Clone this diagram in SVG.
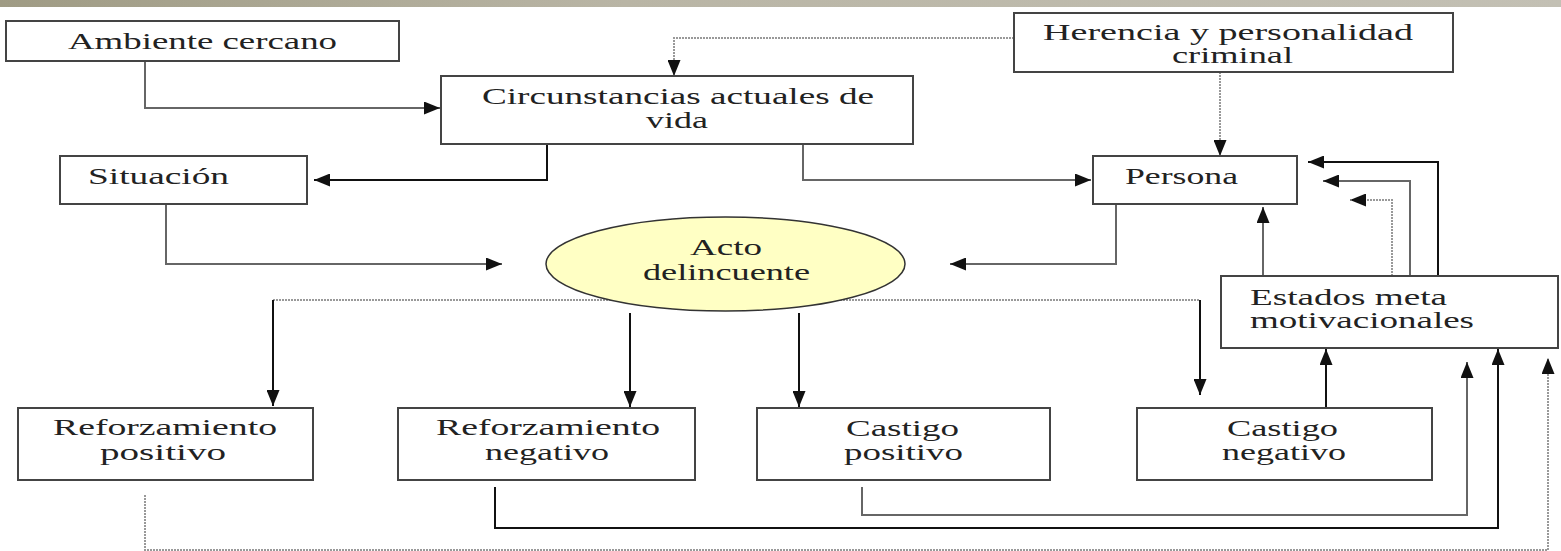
<svg xmlns="http://www.w3.org/2000/svg" width="1561" height="551" viewBox="0 0 1561 551">
<defs>
<linearGradient id="band" x1="0" y1="0" x2="1" y2="0">
<stop offset="0" stop-color="#9f9b84"/>
<stop offset="0.4" stop-color="#b9b5a5"/>
<stop offset="1" stop-color="#c3c0b4"/>
</linearGradient>
<marker id="ah" viewBox="0 0 16 13" refX="16" refY="6.5" markerWidth="16" markerHeight="13" markerUnits="userSpaceOnUse" orient="auto">
<path d="M0,0 L16,6.5 L0,13 z" fill="#111"/>
</marker>
</defs>
<style>
.box{fill:#fff;stroke:#444;stroke-width:2}
.t{font-family:"Liberation Serif","Times New Roman",serif;font-size:24px;fill:#222}
.c{fill:none;stroke-width:2}
.k{stroke:#111}
.g{stroke:#666}
.l{stroke:#999;stroke-dasharray:2 1}
.a{marker-end:url(#ah)}
</style>
<rect x="0" y="0" width="1561" height="7" fill="url(#band)"/>
<rect x="0" y="7" width="1561" height="544" fill="#fff"/>

<g id="connectors">
<path class="c g a" d="M145,61 V108 H440"/>
<path class="c l a" d="M1014,38 H674 V76"/>
<path class="c l a" d="M1220,72 V156"/>
<path class="c k a" d="M547,144 V180 H314"/>
<path class="c g a" d="M803,144 V180 H1091"/>
<path class="c g a" d="M166,204 V264 H502"/>
<path class="c g a" d="M1116,204 V264 H950"/>
<path class="c l" d="M273,300 H1200"/>
<path class="c k a" d="M273,300 V406"/>
<path class="c k a" d="M630,313 V407"/>
<path class="c k a" d="M799,313 V407"/>
<path class="c k a" d="M1200,300 V395"/>
<path class="c k a" d="M1438,276 V162 H1308"/>
<path class="c g a" d="M1410,276 V181 H1323"/>
<path class="c l a" d="M1392,276 V200 H1350"/>
<path class="c g a" d="M1263,276 V207"/>
<path class="c k a" d="M1326,408 V349"/>
<path class="c g a" d="M862,487 V515 H1467 V362"/>
<path class="c k a" d="M495,487 V528 H1498 V349"/>
<path class="c l a" d="M145,495 V550 H1548 V358"/>
</g>

<g id="ambiente">
<rect class="box" x="6" y="21" width="393" height="40"/>
<text class="t" x="68" y="49" textLength="269" lengthAdjust="spacingAndGlyphs">Ambiente cercano</text>
</g>
<g id="circunstancias">
<rect class="box" x="441" y="76" width="472" height="68"/>
<text class="t" x="482" y="104" textLength="392" lengthAdjust="spacingAndGlyphs">Circunstancias actuales de</text>
<text class="t" x="646" y="128" textLength="62" lengthAdjust="spacingAndGlyphs">vida</text>
</g>
<g id="herencia">
<rect class="box" x="1014" y="13" width="439" height="59"/>
<text class="t" x="1043" y="40" textLength="370" lengthAdjust="spacingAndGlyphs">Herencia y personalidad</text>
<text class="t" x="1172" y="63" textLength="121" lengthAdjust="spacingAndGlyphs">criminal</text>
</g>
<g id="situacion">
<rect class="box" x="60" y="156" width="247" height="48"/>
<text class="t" x="88" y="184" textLength="141" lengthAdjust="spacingAndGlyphs">Situación</text>
</g>
<g id="persona">
<rect class="box" x="1093" y="156" width="204" height="48"/>
<text class="t" x="1125" y="184" textLength="113" lengthAdjust="spacingAndGlyphs">Persona</text>
</g>
<g id="acto">
<ellipse cx="725.5" cy="264" rx="179.5" ry="47" fill="#ffffc4" stroke="#333" stroke-width="1.5"/>
<text class="t" x="690" y="255" textLength="72" lengthAdjust="spacingAndGlyphs">Acto</text>
<text class="t" x="643" y="280" textLength="167" lengthAdjust="spacingAndGlyphs">delincuente</text>
</g>
<g id="estados">
<rect class="box" x="1221" y="276" width="337" height="72"/>
<text class="t" x="1250" y="305" textLength="197" lengthAdjust="spacingAndGlyphs">Estados meta</text>
<text class="t" x="1250" y="328" textLength="224" lengthAdjust="spacingAndGlyphs">motivacionales</text>
</g>
<g id="refpos">
<rect class="box" x="18" y="408" width="295" height="72"/>
<text class="t" x="53" y="435" textLength="224" lengthAdjust="spacingAndGlyphs">Reforzamiento</text>
<text class="t" x="100" y="460" textLength="126" lengthAdjust="spacingAndGlyphs">positivo</text>
</g>
<g id="refneg">
<rect class="box" x="398" y="408" width="297" height="72"/>
<text class="t" x="436" y="435" textLength="224" lengthAdjust="spacingAndGlyphs">Reforzamiento</text>
<text class="t" x="485" y="460" textLength="124" lengthAdjust="spacingAndGlyphs">negativo</text>
</g>
<g id="castpos">
<rect class="box" x="757" y="408" width="293" height="72"/>
<text class="t" x="846" y="436" textLength="113" lengthAdjust="spacingAndGlyphs">Castigo</text>
<text class="t" x="844" y="460" textLength="119" lengthAdjust="spacingAndGlyphs">positivo</text>
</g>
<g id="castneg">
<rect class="box" x="1137" y="408" width="295" height="72"/>
<text class="t" x="1227" y="436" textLength="111" lengthAdjust="spacingAndGlyphs">Castigo</text>
<text class="t" x="1222" y="460" textLength="124" lengthAdjust="spacingAndGlyphs">negativo</text>
</g>
</svg>
